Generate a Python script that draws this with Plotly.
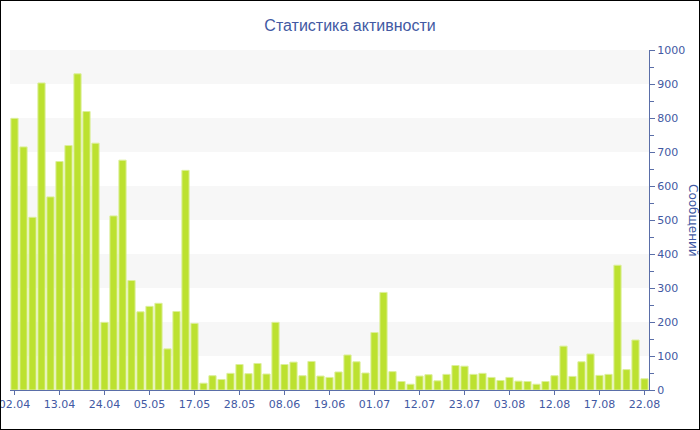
import plotly.graph_objects as go

title_text = "Статистика активности"
axis_title = "Сообщений"

tick_labels = ["02.04", "13.04", "24.04", "05.05", "17.05", "28.05", "08.06", "19.06",
               "01.07", "12.07", "23.07", "03.08", "12.08", "17.08", "22.08"]
tick_step = 5

values = [799, 715, 508, 903, 568, 672, 719, 930, 819, 726,
          199, 512, 676, 322, 230, 246, 255, 121, 231, 646,
          196, 20, 42, 31, 49, 75, 48, 78, 47, 199,
          75, 82, 42, 84, 41, 37, 53, 103, 83, 50,
          169, 287, 54, 25, 17, 41, 45, 27, 46, 72,
          70, 46, 49, 37, 28, 37, 26, 25, 17, 25,
          42, 129, 40, 83, 106, 43, 46, 367, 60, 147,
          33]

x_idx = list(range(len(values)))
tickvals = [i * tick_step for i in range(len(tick_labels))]

blue = "#4259a3"
W, H = 700, 430
ml, mr, mt, mb = 10, 51, 50, 40
pw = W - ml - mr
ph = H - mt - mb

fig = go.Figure()
fig.add_trace(go.Bar(
    x=x_idx, y=values,
    marker=dict(color="#bce130", line=dict(color="#dcef9a", width=1)),
    hoverinfo="y",
))

shapes = []
for lo in range(100, 1000, 200):
    shapes.append(dict(type="rect", xref="paper", yref="y", x0=0, x1=1, y0=lo, y1=lo + 100,
                       fillcolor="#f7f7f7", line=dict(width=0), layer="below"))
shapes.append(dict(type="rect", xref="paper", yref="paper",
                   x0=-ml / pw, x1=(W - ml) / pw, y0=-mb / ph, y1=(H - mb) / ph,
                   line=dict(color="black", width=2), fillcolor="rgba(0,0,0,0)"))

fig.update_layout(
    width=W, height=H,
    margin=dict(l=ml, r=mr, t=mt, b=mb, autoexpand=False),
    paper_bgcolor="white", plot_bgcolor="white",
    title=dict(text=title_text, x=0.5, xref="container", xanchor="center", y=1 - 25 / H, yanchor="middle",
               font=dict(family="Liberation Sans, Arial, sans-serif", size=16, color=blue)),
    bargap=0.2,
    showlegend=False,
    shapes=shapes,
    font=dict(family="DejaVu Sans, Verdana, sans-serif", size=11, color=blue),
    xaxis=dict(
        range=[-0.5, len(values) - 0.5],
        tickmode="array", tickvals=tickvals, ticktext=tick_labels,
        showline=True, linecolor="#5a6ea8", linewidth=1,
        ticks="outside", ticklen=4, tickcolor="#5a6ea8",
        showgrid=False, zeroline=False, automargin=False,
        ticklabeloverflow="allow",
        tickfont=dict(size=11, color=blue),
    ),
    yaxis=dict(
        side="right", range=[0, 1000],
        tickmode="linear", tick0=0, dtick=100,
        showline=True, linecolor="#5a6ea8", linewidth=1,
        ticks="outside", ticklen=5, tickcolor="#5a6ea8",
        minor=dict(ticks="outside", ticklen=4, dtick=50, tickcolor="#5a6ea8", showgrid=False),
        showgrid=False, zeroline=False, automargin=False,
        tickfont=dict(size=11, color=blue),
    ),
    annotations=[dict(text=axis_title, xref="paper", yref="paper", x=1, y=0.5,
                      xanchor="center", yanchor="middle", xshift=44, textangle=90,
                      showarrow=False, font=dict(size=12, color=blue,
                                                 family="DejaVu Sans, Verdana, sans-serif"))],
)

fig.write_html("out.html", config={"displayModeBar": False},
               post_script="document.body.style.margin='0';document.body.style.padding='0';")
